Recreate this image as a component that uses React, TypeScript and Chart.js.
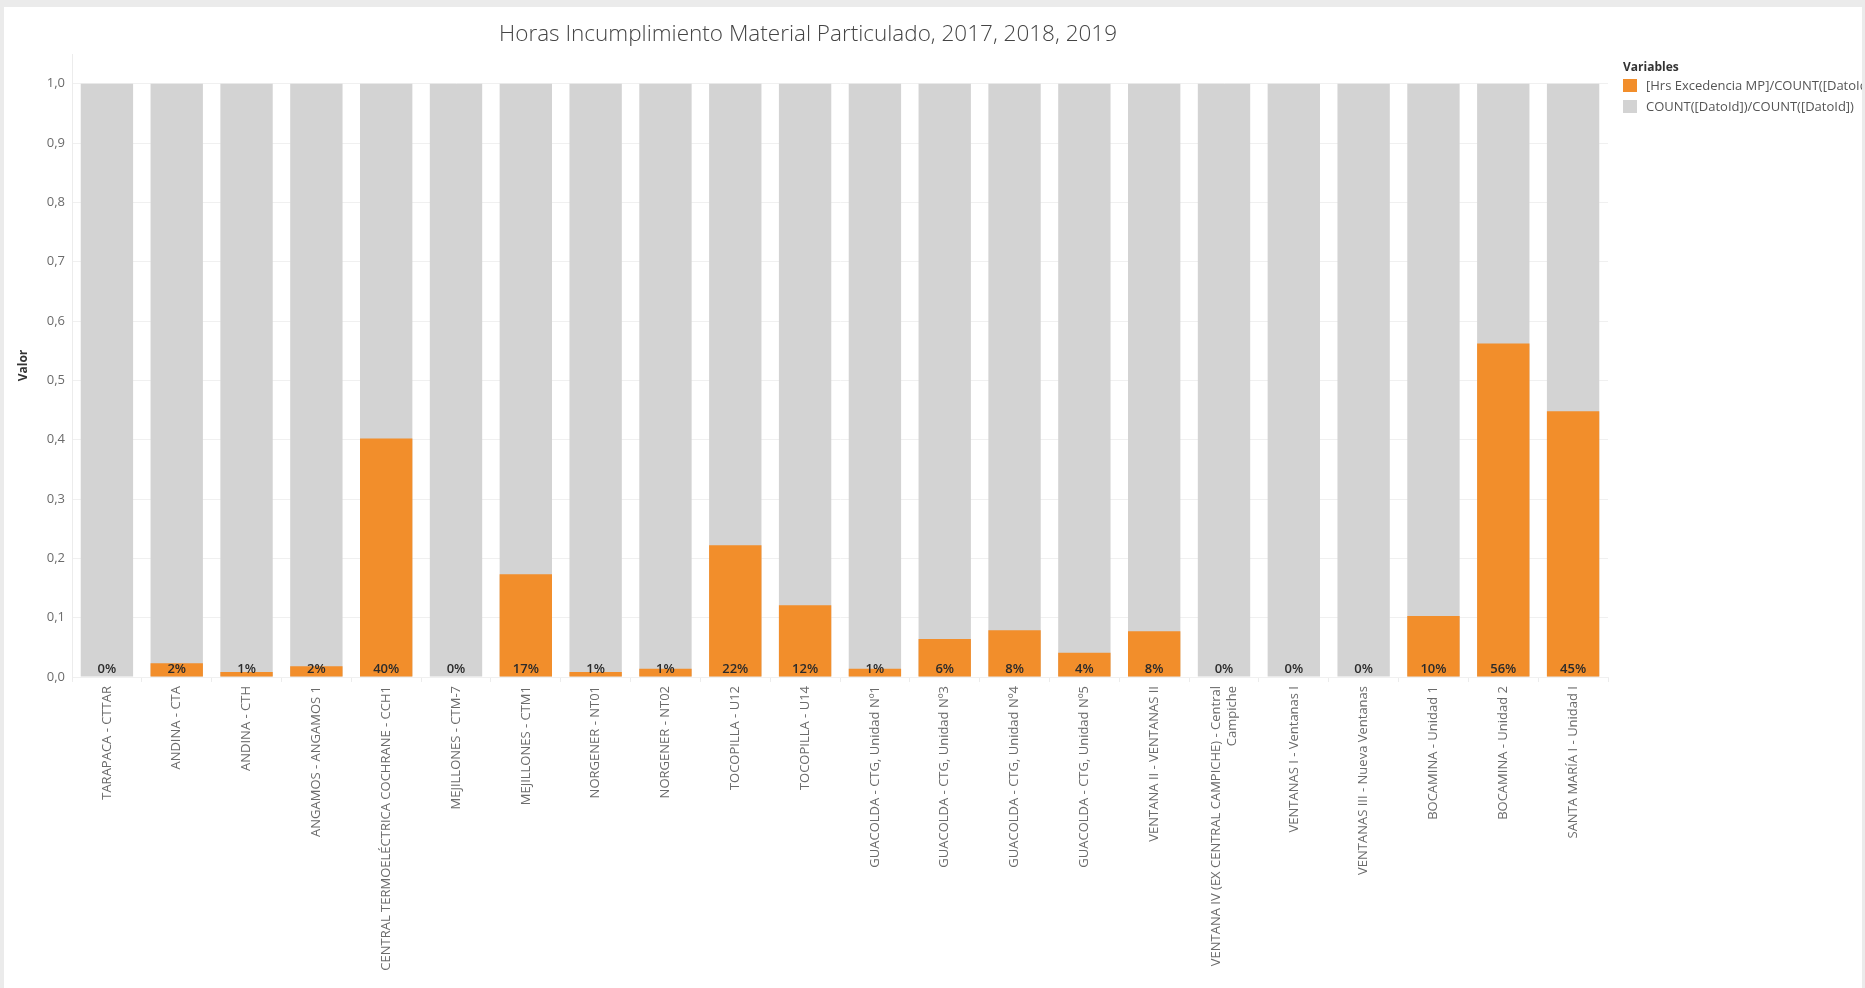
import React, { useEffect, useRef } from 'react';
import { Chart, registerables } from 'chart.js';

Chart.register(...registerables);

const chartTitle = 'Horas Incumplimiento Material Particulado, 2017, 2018, 2019';
const yAxisTitle = 'Valor';
const legendTitle = 'Variables';
const seriesNames = ['[Hrs Excedencia MP]/COUNT([DatoId])', 'COUNT([DatoId])/COUNT([DatoId])'];
const seriesColors = ['#f28e2b', '#d3d3d3'];

const categories: (string | string[])[] = [
  'TARAPACA - CTTAR',
  'ANDINA - CTA',
  'ANDINA - CTH',
  'ANGAMOS - ANGAMOS 1',
  'CENTRAL TERMOELÉCTRICA COCHRANE - CCH1',
  'MEJILLONES - CTM-7',
  'MEJILLONES - CTM1',
  'NORGENER - NT01',
  'NORGENER - NT02',
  'TOCOPILLA - U12',
  'TOCOPILLA - U14',
  'GUACOLDA - CTG, Unidad Nº1',
  'GUACOLDA - CTG, Unidad Nº3',
  'GUACOLDA - CTG, Unidad Nº4',
  'GUACOLDA - CTG, Unidad Nº5',
  'VENTANA II - VENTANAS II',
  ['VENTANA IV (EX CENTRAL CAMPICHE) - Central', 'Campiche'],
  'VENTANAS I - Ventanas I',
  'VENTANAS III - Nueva Ventanas',
  'BOCAMINA - Unidad 1',
  'BOCAMINA - Unidad 2',
  'SANTA MARÍA I - Unidad I',
];

const excedencia = [
  0.0, 0.023, 0.0084, 0.018, 0.402, 0.0, 0.173, 0.0084, 0.014, 0.222, 0.121,
  0.0137, 0.064, 0.079, 0.041, 0.077, 0.0, 0.0, 0.0, 0.103, 0.562, 0.448,
];

const total = [
  1, 1, 1, 1, 1, 1, 1, 1, 1, 1, 1,
  1, 1, 1, 1, 1, 1, 1, 1, 1, 1, 1,
];

const W = 1858;
const H = 981;
const X_FONT_SIZE = 13;

const overlayPlugin = {
  id: 'overlayPlugin',
  beforeDraw(chart: any) {
    // center multi-line rotated tick labels on their tick (Chart.js puts first line on the tick)
    const xs = chart.scales.x;
    const items = xs.getLabelItems();
    const lh = X_FONT_SIZE * 1.2;
    items.forEach((it: any) => {
      if (Array.isArray(it.label) && !it._shifted) {
        it.options.translation[0] -= ((it.label.length - 1) * lh) / 2;
        it._shifted = true;
      }
    });
  },
  afterDatasetsDraw(chart: any) {
    const ctx = chart.ctx as CanvasRenderingContext2D;
    const meta = chart.getDatasetMeta(0);
    const y0 = chart.scales.y.getPixelForValue(0);
    ctx.save();
    ctx.font = '600 13px "Open Sans"';
    ctx.fillStyle = '#2b2b2b';
    ctx.textAlign = 'center';
    ctx.textBaseline = 'alphabetic';
    meta.data.forEach((bar: any, i: number) => {
      ctx.fillText(Math.round(excedencia[i] * 100) + '%', bar.x, y0 - 4);
    });
    ctx.restore();
  },
  afterDraw(chart: any) {
    const ctx = chart.ctx as CanvasRenderingContext2D;
    const area = chart.chartArea;
    ctx.save();
    // title
    ctx.font = '300 22.5px "Open Sans"';
    ctx.fillStyle = '#444444';
    ctx.textAlign = 'center';
    ctx.textBaseline = 'middle';
    ctx.fillText(chartTitle, 804, 28);
    // y axis title
    ctx.save();
    ctx.translate(20, (area.top + area.bottom) / 2);
    ctx.rotate(-Math.PI / 2);
    ctx.font = 'bold 12px "Open Sans"';
    ctx.fillStyle = '#333333';
    ctx.textAlign = 'center';
    ctx.textBaseline = 'middle';
    ctx.fillText(yAxisTitle, 0, 0);
    ctx.restore();
    // legend
    ctx.textAlign = 'left';
    ctx.textBaseline = 'middle';
    ctx.font = 'bold 12px "Open Sans"';
    ctx.fillStyle = '#333333';
    ctx.fillText(legendTitle, 1619, 61);
    ctx.font = '13px "Open Sans"';
    seriesNames.forEach((name, i) => {
      const y = 72 + i * 21;
      ctx.fillStyle = seriesColors[i];
      ctx.fillRect(1619, y, 14, 13);
      ctx.fillStyle = '#555555';
      ctx.fillText(name, 1642, y + 7);
    });
    ctx.restore();
  },
};

export default function App() {
  const ref = useRef<HTMLCanvasElement | null>(null);

  useEffect(() => {
    if (!ref.current) return;
    const chart = new Chart(ref.current, {
      type: 'bar',
      data: {
        labels: categories as any,
        datasets: [
          {
            label: seriesNames[0],
            data: excedencia,
            backgroundColor: seriesColors[0],
            borderWidth: 0,
            categoryPercentage: 1,
            barPercentage: 0.75,
          },
          {
            label: seriesNames[1],
            data: total,
            backgroundColor: seriesColors[1],
            borderWidth: 0,
            categoryPercentage: 1,
            barPercentage: 0.75,
          },
        ],
      },
      options: {
        responsive: false,
        maintainAspectRatio: false,
        animation: false,
        devicePixelRatio: 1,
        layout: { padding: { left: 0, top: 47, right: 254, bottom: 0 } },
        plugins: {
          legend: { display: false },
          title: { display: false },
          tooltip: { enabled: false },
        },
        scales: {
          x: {
            stacked: true,
            offset: true,
            grid: {
              drawOnChartArea: false,
              drawTicks: true,
              tickLength: 5,
              color: '#ececec',
              offset: true,
            },
            border: { display: true, color: '#f0f0f0' },
            ticks: {
              autoSkip: false,
              minRotation: 90,
              maxRotation: 90,
              padding: 4,
              color: '#6b6b6b',
              font: { family: '"Open Sans"', size: X_FONT_SIZE },
            },
            afterFit: (scale: any) => {
              scale.height = 311;
            },
          },
          y: {
            stacked: false,
            min: 0,
            max: 1.05,
            grid: { color: '#f0f0f0', drawTicks: false },
            border: { display: true, color: '#ececec' },
            ticks: {
              stepSize: 0.1,
              includeBounds: false,
              padding: 7,
              color: '#6b6b6b',
              font: { family: '"Open Sans"', size: 13 },
              callback: (v: any) => Number(v).toFixed(1).replace('.', ','),
            },
            afterFit: (scale: any) => {
              scale.width = 68;
            },
          },
        },
      },
      plugins: [overlayPlugin],
    });
    return () => chart.destroy();
  }, []);

  return (
    <div style={{ position: 'fixed', left: 0, top: 0, right: 0, bottom: 0, background: '#ebebeb' }}>
      <div style={{ position: 'absolute', left: 4, top: 7, width: W, height: H, background: '#ffffff', overflow: 'hidden' }}>
        <canvas ref={ref} width={W} height={H} style={{ display: 'block' }} />
      </div>
    </div>
  );
}
